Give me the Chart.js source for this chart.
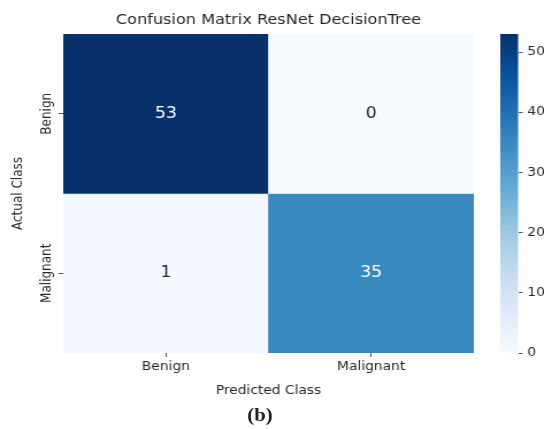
<!DOCTYPE html>
<html>
<head>
<meta charset="utf-8">
<script src="https://cdn.jsdelivr.net/npm/chart.js@4.4.0/dist/chart.umd.min.js"></script>
<style>
  html, body { margin: 0; padding: 0; background: #fff; overflow: hidden; }
  /* the reference figure is stretched sideways, so draw narrow and stretch */
  #stage { position: relative; width: 473px; height: 429px; transform: scaleX(1.15); transform-origin: 0 0; }
  #heat { position: absolute; left: 0; top: 0; }
  #cbar { position: absolute; left: 425px; top: 0; }
  #caption { position: absolute; left: 0; width: 452px; top: 405px; line-height: 24px; text-align: center;
             font: bold 18px "Liberation Serif", serif; color: #222; }
</style>
</head>
<body>
<div id="stage">
  <canvas id="heat" width="420" height="400"></canvas>
  <canvas id="cbar" width="48" height="400"></canvas>
  <div id="caption">(b)</div>
</div>
<script>
const classLabels = ["Benign", "Malignant"];
// rows = actual class, columns = predicted class
const benignRow = [53, 0];
const malignantRow = [1, 35];
const matrix = [benignRow, malignantRow];
const cbarTicks = [0, 10, 20, 30, 40, 50];

const vmax = Math.max(...matrix.flat());
const FONT = "'DejaVu Sans', sans-serif";
const TEXT = "#262626";

// matplotlib "Blues"
const bluesStops = ["#f7fbff", "#deebf7", "#c6dbef", "#9ecae1", "#6baed6", "#4292c6", "#2171b5", "#08519c", "#08306b"];

function blues(t) {
  t = Math.max(0, Math.min(1, t));
  const n = bluesStops.length - 1;
  const i = Math.min(Math.floor(t * n), n - 1);
  const f = t * n - i;
  const a = bluesStops[i], b = bluesStops[i + 1];
  const ch = (h, k) => parseInt(h.substr(1 + k * 2, 2), 16);
  const mix = [0, 1, 2].map(k => Math.round(ch(a, k) + (ch(b, k) - ch(a, k)) * f));
  return `rgb(${mix[0]}, ${mix[1]}, ${mix[2]})`;
}

// write the count in the middle of each cell
const cellText = {
  id: "cellText",
  afterDatasetsDraw(chart) {
    const ctx = chart.ctx;
    ctx.save();
    ctx.font = `15px ${FONT}`;
    ctx.textAlign = "center";
    ctx.textBaseline = "middle";
    chart.data.datasets.forEach((ds, i) => {
      chart.getDatasetMeta(i).data.forEach((bar, j) => {
        const p = bar.getCenterPoint();
        const v = matrix[i][j];
        ctx.fillStyle = v > vmax / 2 ? "#ffffff" : TEXT;
        ctx.fillText(String(v), p.x, p.y);
      });
    });
    ctx.restore();
  }
};

const tickGrid = { display: true, drawOnChartArea: false, drawTicks: true, tickLength: 4, color: "#555", offset: false };

new Chart(document.getElementById("heat"), {
  type: "bar",
  data: {
    labels: classLabels,
    datasets: matrix.map((row, i) => ({
      label: classLabels[i],
      data: row.map(() => [i, i + 1]),
      backgroundColor: row.map((v) => blues(v / vmax)),
      borderWidth: 0,
      grouped: false,
      barPercentage: 1,
      categoryPercentage: 1,
    })),
  },
  options: {
    responsive: false,
    animation: false,
    layout: { padding: { right: 8 } },
    plugins: {
      legend: { display: false },
      tooltip: { enabled: false },
      title: {
        display: true,
        text: "Confusion Matrix ResNet DecisionTree",
        color: TEXT,
        fullSize: false,
        font: { family: FONT, size: 14, weight: "normal" },
        padding: { top: 11.6, bottom: 5.6 },
      },
    },
    scales: {
      x: {
        grid: tickGrid,
        border: { display: false },
        ticks: { color: TEXT, font: { family: FONT, size: 12 }, padding: 3, maxRotation: 0 },
        title: {
          display: true,
          text: "Predicted Class",
          color: TEXT,
          font: { family: FONT, size: 12 },
          padding: { top: 0, bottom: 2 },
        },
        afterFit: (s) => { s.height = 47; },
      },
      y: {
        min: 0,
        max: classLabels.length,
        reverse: true,
        afterBuildTicks: (s) => { s.ticks = classLabels.map((_, i) => ({ value: i + 0.5 })); },
        grid: tickGrid,
        border: { display: false },
        ticks: {
          callback: (v) => classLabels[Math.floor(v)],
          color: TEXT,
          font: { family: FONT, size: 12 },
          minRotation: 90,
          maxRotation: 90,
          crossAlign: "center",
          padding: -20,
        },
        title: {
          display: true,
          text: "Actual Class",
          color: TEXT,
          font: { family: FONT, size: 12 },
          padding: { top: 8.5, bottom: 0 },
        },
        afterFit: (s) => { s.width = 55; },
      },
    },
  },
  plugins: [cellText],
});

// colour bar
new Chart(document.getElementById("cbar"), {
  type: "bar",
  data: {
    labels: [""],
    datasets: [{
      data: [[0, vmax]],
      borderWidth: 0,
      barPercentage: 1,
      categoryPercentage: 1,
      backgroundColor: (c) => {
        const area = c.chart.chartArea;
        if (!area) return blues(0.5);
        const g = c.chart.ctx.createLinearGradient(0, area.bottom, 0, area.top);
        bluesStops.forEach((col, k) => g.addColorStop(k / (bluesStops.length - 1), col));
        return g;
      },
    }],
  },
  options: {
    responsive: false,
    animation: false,
    layout: { padding: { left: 10, top: 34, bottom: 47, right: 0 } },
    plugins: { legend: { display: false }, tooltip: { enabled: false } },
    scales: {
      x: { display: false },
      y: {
        position: "right",
        min: 0,
        max: vmax,
        afterBuildTicks: (s) => { s.ticks = cbarTicks.map((v) => ({ value: v })); },
        grid: { display: true, drawOnChartArea: false, drawTicks: true, tickLength: 4, color: "#555" },
        border: { display: false },
        ticks: { color: TEXT, font: { family: FONT, size: 12 }, padding: 4 },
        afterFit: (s) => { s.width = 22.4; },
      },
    },
  },
});
</script>
</body>
</html>
